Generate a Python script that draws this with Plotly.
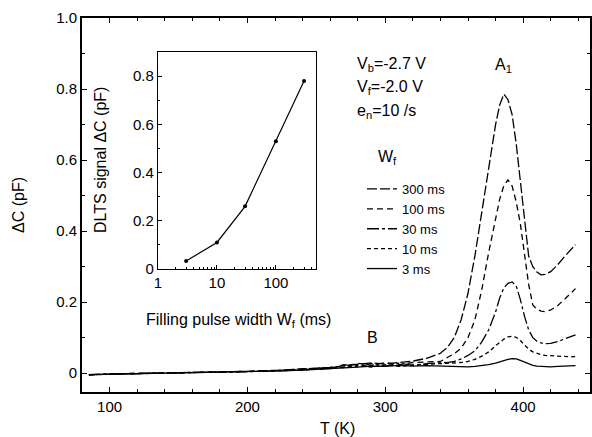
import plotly.graph_objects as go

# ---------------- data ----------------
T = [85, 100, 120, 140, 160, 180, 200, 220, 240, 260, 270, 280, 290, 300, 310, 320, 330,
     340, 345, 350, 355, 360, 365, 370, 375, 380, 383, 386, 389, 392, 395, 398, 401, 404,
     407, 410, 413, 416, 420, 425, 430, 435, 438]

dc_300 = [-0.004, -0.002, -0.001, 0.001, 0.002, 0.003, 0.005, 0.008, 0.011, 0.016, 0.021, 0.025, 0.029, 0.026, 0.031, 0.034, 0.042,
          0.056, 0.072, 0.100, 0.150, 0.225, 0.330, 0.455, 0.585, 0.700, 0.755, 0.786, 0.770, 0.728, 0.645, 0.535, 0.425, 0.330,
          0.300, 0.285, 0.277, 0.278, 0.286, 0.305, 0.328, 0.350, 0.362]
dc_100 = [-0.005, -0.002, 0.000, 0.000, 0.002, 0.004, 0.004, 0.007, 0.012, 0.015, 0.018, 0.028, 0.022, 0.030, 0.024, 0.030, 0.031,
          0.033, 0.044, 0.055, 0.070, 0.100, 0.150, 0.235, 0.340, 0.430, 0.490, 0.528, 0.544, 0.527, 0.482, 0.420, 0.340, 0.250,
          0.192, 0.180, 0.175, 0.173, 0.178, 0.190, 0.208, 0.228, 0.238]
dc_30 = [-0.004, -0.003, 0.000, 0.001, 0.001, 0.003, 0.005, 0.006, 0.010, 0.013, 0.024, 0.018, 0.027, 0.020, 0.028, 0.022, 0.027,
         0.028, 0.030, 0.033, 0.040, 0.050, 0.063, 0.088, 0.122, 0.172, 0.212, 0.240, 0.253, 0.257, 0.245, 0.207, 0.160, 0.122,
         0.100, 0.090, 0.085, 0.083, 0.084, 0.089, 0.096, 0.103, 0.108]
dc_10 = [-0.005, -0.002, -0.001, 0.001, 0.002, 0.002, 0.004, 0.007, 0.009, 0.014, 0.016, 0.022, 0.017, 0.024, 0.019, 0.023, 0.025,
         0.025, 0.026, 0.028, 0.030, 0.033, 0.039, 0.048, 0.060, 0.077, 0.087, 0.096, 0.102, 0.104, 0.101, 0.092, 0.079, 0.068,
         0.060, 0.055, 0.052, 0.050, 0.049, 0.047, 0.046, 0.046, 0.047]
dc_3 = [-0.004, -0.003, -0.001, 0.000, 0.001, 0.003, 0.004, 0.006, 0.009, 0.012, 0.014, 0.017, 0.020, 0.019, 0.022, 0.020, 0.021,
        0.020, 0.019, 0.018, 0.018, 0.018, 0.019, 0.021, 0.024, 0.028, 0.032, 0.036, 0.039, 0.041, 0.040, 0.036, 0.031, 0.026,
        0.022, 0.020, 0.019, 0.018, 0.018, 0.019, 0.020, 0.021, 0.021]

series_names = ["300 ms", "100 ms", "30 ms", "10 ms", "3 ms"]
series_values = [dc_300, dc_100, dc_30, dc_10, dc_3]
series_dash = ["10px,3px", "6px,4px", "12px,3px,3px,3px", "4px,3px", "solid"]

# inset: DLTS peak height vs filling pulse width
wf_ms = [3, 10, 30, 100, 300]
peak_pf = [0.033, 0.11, 0.26, 0.53, 0.78]

x_ticks = [100, 200, 300, 400]
y_ticks = [0, 0.2, 0.4, 0.6, 0.8, 1.0]
y_ticktext = ["0", "0.2", "0.4", "0.6", "0.8", "1.0"]
inset_x_ticks = [1, 10, 100]
inset_x_minor = [2, 3, 4, 5, 6, 7, 8, 9, 20, 30, 40, 50, 60, 70, 80, 90, 200, 300, 400]
inset_y_ticks = [0, 0.2, 0.4, 0.6, 0.8]
inset_y_ticktext = ["0", "0.2", "0.4", "0.6", "0.8"]

# ---------------- figure ----------------
FONT = "Liberation Sans, Arial, sans-serif"
L, R, TOP, BOT = 82, 590, 18, 392
W, H = 592, 437
fig = go.Figure()

for name, vals, dash in zip(series_names, series_values, series_dash):
    fig.add_trace(go.Scatter(x=T, y=vals, mode="lines", name=name,
                             line=dict(color="black", width=1.3, dash=dash),
                             xaxis="x", yaxis="y"))

fig.add_trace(go.Scatter(x=wf_ms, y=peak_pf, mode="lines+markers", showlegend=False,
                         line=dict(color="black", width=1.2),
                         marker=dict(color="black", size=4),
                         xaxis="x2", yaxis="y2"))

axis_common = dict(showline=True, linecolor="black", showgrid=False, zeroline=False, automargin=False,
                   ticks="inside", tickcolor="black", tickfont=dict(family=FONT, size=15, color="black"))

fig.update_layout(
    template="none",
    width=W, height=H,
    margin=dict(l=L, r=W - R, t=TOP, b=H - BOT, pad=0),
    paper_bgcolor="white", plot_bgcolor="white",
    font=dict(family=FONT, size=15, color="black"),
    xaxis=dict(**axis_common, range=[80, 448.5], tickvals=x_ticks, ticklen=5, linewidth=2,
               mirror="ticks",
               minor=dict(dtick=20, tick0=0, ticks="inside", ticklen=3, tickcolor="black", showgrid=False),
               domain=[0, 1]),
    yaxis=dict(**axis_common, range=[-0.053, 1.0], tickvals=y_ticks, ticktext=y_ticktext, ticklen=5,
               linewidth=2, mirror="ticks",
               minor=dict(dtick=0.1, tick0=0, ticks="inside", ticklen=3, tickcolor="black", showgrid=False),
               domain=[0, 1]),
    xaxis2=dict(**axis_common, type="log", range=[0, 2.68], tickvals=inset_x_ticks, ticklen=4,
                linewidth=1.2, mirror=True, domain=[(158 - L) / (R - L), (316 - L) / (R - L)], anchor="y2",
                minor=dict(tickvals=inset_x_minor, ticks="inside", ticklen=2, tickcolor="black", showgrid=False)),
    yaxis2=dict(**axis_common, range=[0, 0.9], tickvals=inset_y_ticks, ticktext=inset_y_ticktext,
                ticklen=4, linewidth=1.2, mirror=True,
                domain=[(BOT - 269) / (BOT - TOP), (BOT - 52) / (BOT - TOP)], anchor="x2",
                minor=dict(dtick=0.1, tick0=0, ticks="inside", ticklen=2, tickcolor="black", showgrid=False)),
    legend=dict(x=(362 - L) / (R - L), y=(BOT - 174) / (BOT - TOP), xanchor="left", yanchor="top",
                bgcolor="rgba(0,0,0,0)", borderwidth=0,
                font=dict(family=FONT, size=13), tracegroupgap=0),
    showlegend=True,
)

annotations = []
def add_text(text, x, y, anchor="center", angle=0, size=16):
    annotations.append(dict(text=text, xref="paper", yref="paper",
                            x=(x - L) / (R - L), y=(BOT - y) / (BOT - TOP),
                            xanchor=anchor, yanchor="middle", showarrow=False,
                            textangle=angle, font=dict(family=FONT, size=size)))

add_text("V<sub>b</sub>=-2.7 V", 355, 65, anchor="left")
add_text("V<sub>f</sub>=-2.0 V", 355, 88, anchor="left")
add_text("e<sub>n</sub>=10 /s", 355, 111, anchor="left")
add_text("W<sub>f</sub>", 387, 157)
add_text("A<sub>1</sub>", 503, 66)
add_text("B", 372, 337)
add_text("Filling pulse width W<sub>f</sub> (ms)", 238, 320)
add_text("DLTS signal ΔC (pF)", 100, 160, angle=-90)
add_text("ΔC (pF)", 18, 205, angle=-90)
add_text("T (K)", 337, 428)
fig.update_layout(annotations=annotations)

fig.write_html("out.html", config={"displayModeBar": False},
               post_script="document.body.style.margin='0px';")
